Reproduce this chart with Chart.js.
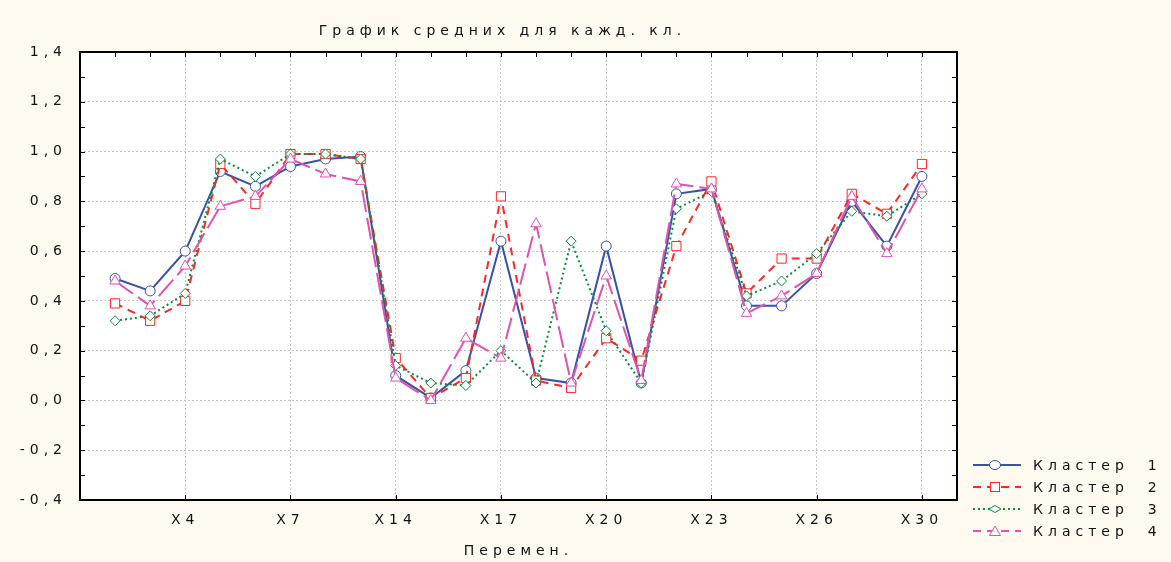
<!DOCTYPE html>
<html>
<head>
<meta charset="utf-8">
<title>График средних для кажд. кл.</title>
<script src="https://cdn.jsdelivr.net/npm/chart.js@4.4.1/dist/chart.umd.min.js"></script>
<style>
  html, body { margin: 0; padding: 0; background: #fffaf0; }
  #wrap { position: relative; width: 1171px; height: 562px; }
  #chart { position: absolute; left: 0; top: 0; }
  #title { position: absolute; left: 0; top: 21px; width: 995px; padding-left: 5px; text-align: center;
           font: 14px/18px "DejaVu Sans", sans-serif; letter-spacing: 5px; color: #111; }
  #legend { position: absolute; left: 973px; top: 454px; font: 14px "DejaVu Sans", sans-serif; color: #111; }
  .row { height: 22px; display: flex; align-items: center; }
  .row span { margin-left: 12px; letter-spacing: 5px; white-space: pre; }
</style>
</head>
<body>
<div id="wrap">
  <canvas id="chart" width="1171" height="562"></canvas>
  <div id="title">График средних для кажд. кл.</div>
  <div id="legend"></div>
</div>
<script>
// variables on the x axis (only every third one gets a label)
const varNames = ['X2', 'X3', 'X4', 'X5', 'X6', 'X7', 'X10', 'X12', 'X14', 'X15', 'X16', 'X17',
                  'X18', 'X19', 'X20', 'X21', 'X22', 'X23', 'X24', 'X25', 'X26', 'X27', 'X28', 'X30'];

// cluster means
const cluster1 = [0.49, 0.44, 0.60, 0.92, 0.86, 0.94, 0.97, 0.98, 0.10, 0.01, 0.12, 0.64,
                  0.09, 0.07, 0.62, 0.07, 0.83, 0.85, 0.38, 0.38, 0.51, 0.80, 0.62, 0.90];
const cluster2 = [0.39, 0.32, 0.40, 0.95, 0.79, 0.99, 0.99, 0.97, 0.17, 0.01, 0.09, 0.82,
                  0.08, 0.05, 0.25, 0.16, 0.62, 0.88, 0.43, 0.57, 0.57, 0.83, 0.75, 0.95];
const cluster3 = [0.32, 0.34, 0.43, 0.97, 0.90, 0.99, 0.99, 0.97, 0.14, 0.07, 0.06, 0.20,
                  0.07, 0.64, 0.28, 0.07, 0.77, 0.84, 0.42, 0.48, 0.59, 0.76, 0.74, 0.83];
const cluster4 = [0.48, 0.38, 0.54, 0.78, 0.82, 0.97, 0.91, 0.88, 0.09, 0.00, 0.25, 0.17,
                  0.71, 0.07, 0.50, 0.08, 0.87, 0.85, 0.35, 0.42, 0.51, 0.82, 0.59, 0.85];

const seriesNames = ['Кластер  1', 'Кластер  2', 'Кластер  3', 'Кластер  4'];
const yMin = -0.4, yMax = 1.4, yStep = 0.2;

const FONT = '"DejaVu Sans", sans-serif';

const styles = [
  { color: '#3a52a6', dash: [], point: 'circle', radius: 5 },
  { color: '#ff2626', dash: [8, 6], point: 'rect', radius: 6.5 },
  { color: '#0c8a3c', dash: [2, 3], point: 'rectRot', radius: 5 },
  { color: '#e052b0', dash: [22, 6], point: 'triangle', radius: 6 }
];

const allSeries = [cluster1, cluster2, cluster3, cluster4];

// x is linear: position i+1 for the i-th variable, 0 and 25 are the frame edges
const datasets = allSeries.map((vals, k) => ({
  label: seriesNames[k],
  data: vals.map((v, i) => ({ x: i + 1, y: v })),
  borderColor: styles[k].color,
  borderWidth: 2,
  borderDash: styles[k].dash,
  pointStyle: styles[k].point,
  pointRadius: styles[k].radius,
  pointBorderWidth: 1,
  pointBorderColor: styles[k].color,
  pointBackgroundColor: '#fff',
  tension: 0,
  order: 4 - k
}));

// white plot area, black frame and the small inward ticks
const frameTicks = {
  id: 'frameTicks',
  beforeDraw(chart) {
    const { ctx, chartArea: a } = chart;
    ctx.save();
    ctx.fillStyle = '#ffffff';
    ctx.fillRect(a.left, a.top, a.right - a.left, a.bottom - a.top);
    ctx.restore();
    ctx.letterSpacing = '5px';
  },
  afterDraw(chart) {
    const { ctx, chartArea: a, scales: { x, y } } = chart;
    ctx.save();
    ctx.strokeStyle = '#000';
    ctx.lineWidth = 1;
    ctx.beginPath();
    for (let v = yMin; v <= yMax + 1e-9; v += 0.1) {
      const py = Math.round(y.getPixelForValue(v)) + 0.5;
      ctx.moveTo(a.left, py); ctx.lineTo(a.left + 5, py);
      ctx.moveTo(a.right - 5, py); ctx.lineTo(a.right, py);
    }
    for (let i = 1; i <= varNames.length; i++) {
      const px = Math.round(x.getPixelForValue(i)) + 0.5;
      ctx.moveTo(px, a.top); ctx.lineTo(px, a.top + 5);
      if (i % 3 === 0) { ctx.moveTo(px, a.bottom); ctx.lineTo(px, a.bottom - 5); }
    }
    ctx.stroke();
    ctx.lineWidth = 2;
    ctx.strokeRect(a.left, a.top, a.right - a.left, a.bottom - a.top);
    ctx.restore();
  }
};

const ctx = document.getElementById('chart').getContext('2d');
new Chart(ctx, {
  type: 'line',
  data: { datasets: datasets },
  plugins: [frameTicks],
  options: {
    responsive: false,
    animation: false,
    layout: { padding: { left: 0, right: 214, top: 52, bottom: 0 } },
    plugins: {
      legend: { display: false },
      tooltip: { enabled: false }
    },
    scales: {
      x: {
        type: 'linear',
        min: 0,
        max: varNames.length + 1,
        afterFit: s => { s.height = 62; },
        ticks: {
          stepSize: 3,
          autoSkip: false,
          maxRotation: 0,
          padding: 12,
          color: '#111',
          font: { family: FONT, size: 14 },
          callback: v => varNames[v - 1] || ''
        },
        grid: { color: '#c4c4c4', lineWidth: 1, drawTicks: false },
        border: { display: false, dash: [2, 2] },
        title: {
          display: true,
          text: 'Перемен.',
          color: '#111',
          font: { family: FONT, size: 14 },
          padding: { top: 4, bottom: 2 }
        }
      },
      y: {
        min: yMin,
        max: yMax,
        afterFit: s => { s.width = 80; },
        ticks: {
          stepSize: yStep,
          padding: 13,
          color: '#111',
          font: { family: FONT, size: 14 },
          callback: v => (Math.abs(v) < 1e-9 ? 0 : v).toFixed(1).replace('.', ',')
        },
        grid: { color: '#c4c4c4', lineWidth: 1, drawTicks: false },
        border: { display: false, dash: [2, 2] }
      }
    }
  }
});

// legend: line sample with marker in the middle, then the label
const markerSvg = {
  circle: c => `<ellipse cx="22" cy="7" rx="5.5" ry="4.5" fill="#fff" stroke="${c}" stroke-width="1"/>`,
  rect: c => `<rect x="17.5" y="2.5" width="9" height="9" fill="#fff" stroke="${c}" stroke-width="1"/>`,
  rectRot: c => `<polygon points="16,7 22,3.5 28,7 22,10.5" fill="#fff" stroke="${c}" stroke-width="1"/>`,
  triangle: c => `<polygon points="22,2 27.5,11.5 16.5,11.5" fill="#fff" stroke="${c}" stroke-width="1"/>`
};
const legendBox = document.getElementById('legend');
seriesNames.forEach((name, k) => {
  const st = styles[k];
  const row = document.createElement('div');
  row.className = 'row';
  row.innerHTML =
    `<svg width="48" height="14"><line x1="0" y1="7" x2="48" y2="7" stroke="${st.color}" stroke-width="2"` +
    (st.dash.length ? ` stroke-dasharray="${st.dash.map(d => Math.min(d, 8)).join(' ')}"` : '') + `/>` +
    markerSvg[st.point](st.color) + `</svg><span>${name}</span>`;
  legendBox.appendChild(row);
});
</script>
</body>
</html>
